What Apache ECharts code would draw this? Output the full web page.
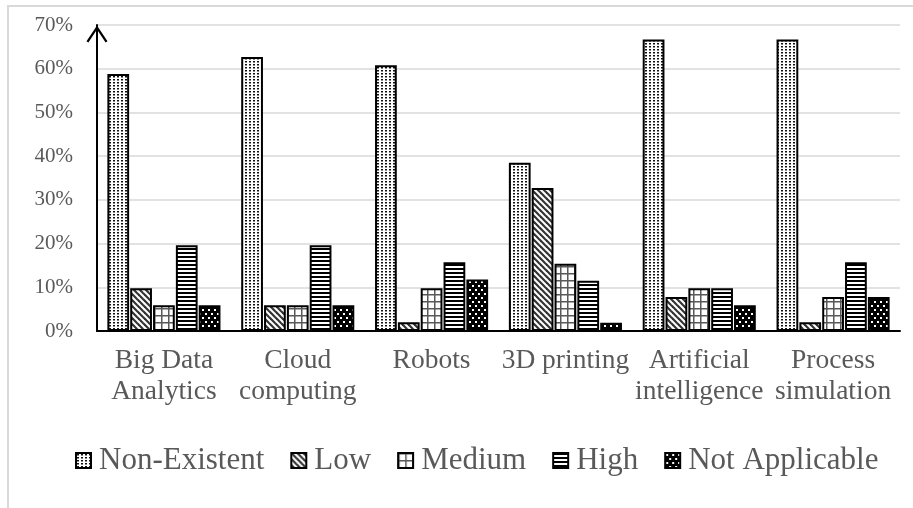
<!DOCTYPE html>
<html>
<head>
<meta charset="utf-8">
<script src="https://cdn.jsdelivr.net/npm/echarts@6/dist/echarts.min.js"></script>
<style>
html,body{margin:0;padding:0;background:#fff;}
#frame{position:absolute;left:7px;top:5px;width:1000px;height:1000px;border-left:2px solid #d9d9d9;border-top:2px solid #d9d9d9;}
#chart{position:absolute;left:0;top:0;width:913px;height:508px;}
</style>
</head>
<body>
<div id="frame"></div>
<div id="chart"></div>
<script>
var categories = ['Big Data\nAnalytics', 'Cloud\ncomputing', 'Robots', '3D printing', 'Artificial\nintelligence', 'Process\nsimulation'];
var seriesNames = ['Non-Existent', 'Low', 'Medium', 'High', 'Not Applicable'];
var nonExistent = [58.8, 62.7, 60.8, 38.5, 66.7, 66.7];
var low = [9.8, 5.9, 2.0, 32.7, 7.8, 2.0];
var medium = [5.9, 5.9, 9.8, 15.4, 9.8, 7.8];
var high = [19.6, 19.6, 15.7, 11.5, 9.8, 15.7];
var notApplicable = [5.9, 5.9, 11.8, 1.9, 5.9, 7.8];
var yTicks = [0, 10, 20, 30, 40, 50, 60, 70];

function tile(w, h, draw) {
  var c = document.createElement('canvas');
  c.width = w; c.height = h;
  var g = c.getContext('2d');
  draw(g, w, h);
  return c;
}
var patNE = tile(4, 3, function (g, w, h) {
  g.fillStyle = '#fff'; g.fillRect(0, 0, w, h);
  g.fillStyle = '#111'; g.fillRect(1, 1, 2, 1.5);
});
var patLow = tile(6, 6, function (g, w, h) {
  g.fillStyle = '#fff'; g.fillRect(0, 0, w, h);
  g.strokeStyle = '#333'; g.lineWidth = 2.2;
  for (var k = -1; k <= 1; k++) {
    g.beginPath(); g.moveTo(k * 6 - 1, -1); g.lineTo(k * 6 + 7, 7); g.stroke();
  }
});
var patMed = tile(7, 7, function (g, w, h) {
  g.fillStyle = '#fff'; g.fillRect(0, 0, w, h);
  g.fillStyle = '#595959';
  g.fillRect(0, 0, w, 1.5); g.fillRect(0, 0, 1.5, h);
});
var patHigh = tile(4, 4, function (g, w, h) {
  g.fillStyle = '#fff'; g.fillRect(0, 0, w, h);
  g.fillStyle = '#000'; g.fillRect(0, 0, w, 2);
});
var patNA = tile(6, 8, function (g, w, h) {
  g.fillStyle = '#000'; g.fillRect(0, 0, w, h);
  g.fillStyle = '#fff';
  g.fillRect(1, 1, 2, 2); g.fillRect(4, 5, 2, 2);
});

var dataSets = [nonExistent, low, medium, high, notApplicable];
var patterns = [patNE, patLow, patMed, patHigh, patNA];
var font = "'Liberation Serif', 'Times New Roman', serif";

var series = seriesNames.map(function (name, i) {
  return {
    name: name,
    type: 'bar',
    data: dataSets[i],
    barGap: '5%',
    barCategoryGap: '15.5%',
    itemStyle: {
      color: { image: patterns[i], repeat: 'repeat' },
      borderColor: '#000',
      borderWidth: 2
    },
    emphasis: { disabled: true }
  };
});

var chart = echarts.init(document.getElementById('chart'), null, { renderer: 'canvas' });
chart.setOption({
  backgroundColor: 'transparent',
  animation: false,
  grid: { left: 97, right: 13, top: 25, bottom: 177, containLabel: false },
  legend: {
    data: seriesNames,
    left: 70,
    top: 440,
    icon: 'rect',
    itemWidth: 15,
    itemHeight: 15,
    itemGap: 26,
    textStyle: { fontFamily: font, fontSize: 31, color: '#595959', padding: [0, 0, 0, 3] }
  },
  xAxis: {
    type: 'category',
    data: categories,
    axisLine: { show: true, lineStyle: { color: '#000', width: 2 } },
    axisTick: { show: false },
    axisLabel: { fontFamily: font, fontSize: 27.5, color: '#595959', lineHeight: 31, margin: 14, interval: 0 },
    splitLine: { show: false }
  },
  yAxis: {
    type: 'value',
    min: yTicks[0],
    max: yTicks[yTicks.length - 1],
    interval: 10,
    axisLine: {
      show: true,
      lineStyle: { color: '#000', width: 2 },
      symbol: ['none', 'path://M10 0 L20 15 L18.2 16.4 L10 4 L1.8 16.4 L0 15 Z'],
      symbolSize: [21, 18],
      symbolOffset: [0, -9]
    },
    axisTick: { show: false },
    axisLabel: { fontFamily: font, fontSize: 21, color: '#595959', margin: 24, formatter: '{value}%' },
    splitLine: { show: true, lineStyle: { color: '#d9d9d9', width: 1.5 } }
  },
  series: series
});
</script>
</body>
</html>
